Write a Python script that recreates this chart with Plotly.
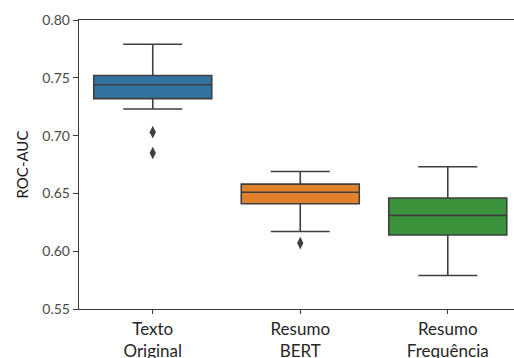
import plotly.graph_objects as go

categories = ["Texto<br>Original", "Resumo<br>BERT", "Resumo<br>Frequência"]
q1 = [0.732, 0.641, 0.614]
medians = [0.744, 0.651, 0.631]
q3 = [0.752, 0.658, 0.646]
lower_whisker = [0.723, 0.617, 0.579]
upper_whisker = [0.779, 0.669, 0.673]
outlier_cat = ["Texto<br>Original", "Texto<br>Original", "Resumo<br>BERT"]
outlier_val = [0.703, 0.685, 0.607]
colors = ["#3274a1", "#e1812c", "#3a923a"]
y_ticks = [0.55, 0.60, 0.65, 0.70, 0.75, 0.80]

line_col = "#3f3f3f"
fig = go.Figure()
for i, c in enumerate(categories):
    fig.add_trace(go.Box(
        x=[c], q1=[q1[i]], median=[medians[i]], q3=[q3[i]],
        lowerfence=[lower_whisker[i]], upperfence=[upper_whisker[i]],
        fillcolor=colors[i], line=dict(color=line_col, width=1.6),
        width=0.8, whiskerwidth=0.5, boxpoints=False, showlegend=False,
        hoverinfo="skip",
    ))
fig.add_trace(go.Scatter(
    x=outlier_cat, y=outlier_val, mode="markers",
    marker=dict(symbol="diamond-tall", size=9, color=line_col),
    showlegend=False,
))

font = "Lato, 'Noto Sans', sans-serif"
fig.update_layout(
    width=514, height=358,
    margin=dict(l=79, r=0, t=20, b=49),
    paper_bgcolor="white", plot_bgcolor="white",
    font=dict(family=font, color="#333333"),
)
fig.update_xaxes(
    type="category", categoryorder="array", categoryarray=categories,
    range=[-0.5, 2.449], showline=True, linecolor="#3a3a3a", linewidth=1.2,
    mirror=True, ticks="outside", ticklen=4, tickcolor="#3a3a3a",
    showgrid=False, zeroline=False, tickfont=dict(size=17, color="#262626"),
    automargin=False,
)
fig.update_yaxes(
    range=[0.55, 0.80], tickvals=y_ticks, tickformat=".2f",
    showline=True, linecolor="#3a3a3a", linewidth=1.2,
    ticks="outside", ticklen=5, tickcolor="#3a3a3a",
    showgrid=False, zeroline=False, tickfont=dict(size=14, color="#4a4a4a"),
    title=dict(text="ROC-AUC", font=dict(size=15, color="#1a1a1a"), standoff=10),
    automargin=False,
)
fig.write_html(
    "out.html",
    config={"displayModeBar": False, "staticPlot": True},
    post_script="document.body.style.margin='0';document.body.style.overflow='hidden';",
)
